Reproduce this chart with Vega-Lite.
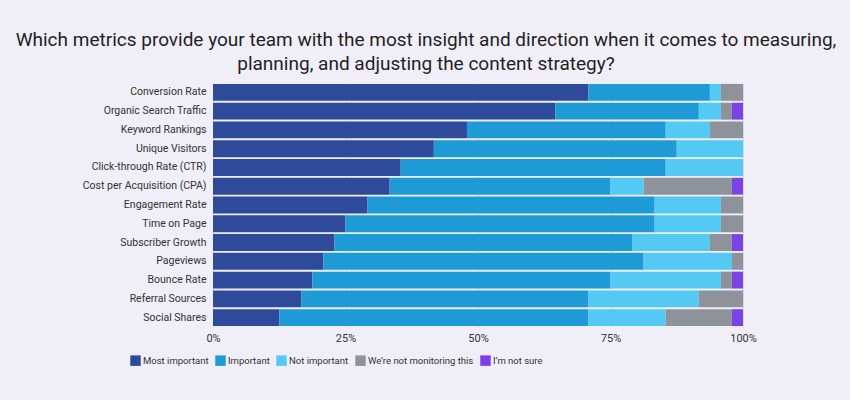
{
  "$schema": "https://vega.github.io/schema/vega-lite/v6.json",
  "autosize": "none",
  "width": 530,
  "height": 244,
  "padding": {"left": 213, "top": 83, "right": 107, "bottom": 73},
  "background": "#f0eef7",
  "title": {
    "text": ["Which metrics provide your team with the most insight and direction when it comes to measuring,", "planning, and adjusting the content strategy?"],
    "anchor": "middle",
    "frame": "group",
    "dx": -52,
    "offset": 9,
    "fontSize": 19,
    "fontWeight": "normal",
    "color": "#1f1f1f",
    "lineHeight": 24
  },
  "data": {
    "values": [
      {"metric": "Conversion Rate", "response": "Most important", "k": 1, "n": 34},
      {"metric": "Conversion Rate", "response": "Important", "k": 2, "n": 11},
      {"metric": "Conversion Rate", "response": "Not important", "k": 3, "n": 1},
      {"metric": "Conversion Rate", "response": "We’re not monitoring this", "k": 4, "n": 2},
      {"metric": "Conversion Rate", "response": "I’m not sure", "k": 5, "n": 0},
      {"metric": "Organic Search Traffic", "response": "Most important", "k": 1, "n": 31},
      {"metric": "Organic Search Traffic", "response": "Important", "k": 2, "n": 13},
      {"metric": "Organic Search Traffic", "response": "Not important", "k": 3, "n": 2},
      {"metric": "Organic Search Traffic", "response": "We’re not monitoring this", "k": 4, "n": 1},
      {"metric": "Organic Search Traffic", "response": "I’m not sure", "k": 5, "n": 1},
      {"metric": "Keyword Rankings", "response": "Most important", "k": 1, "n": 23},
      {"metric": "Keyword Rankings", "response": "Important", "k": 2, "n": 18},
      {"metric": "Keyword Rankings", "response": "Not important", "k": 3, "n": 4},
      {"metric": "Keyword Rankings", "response": "We’re not monitoring this", "k": 4, "n": 3},
      {"metric": "Keyword Rankings", "response": "I’m not sure", "k": 5, "n": 0},
      {"metric": "Unique Visitors", "response": "Most important", "k": 1, "n": 20},
      {"metric": "Unique Visitors", "response": "Important", "k": 2, "n": 22},
      {"metric": "Unique Visitors", "response": "Not important", "k": 3, "n": 6},
      {"metric": "Unique Visitors", "response": "We’re not monitoring this", "k": 4, "n": 0},
      {"metric": "Unique Visitors", "response": "I’m not sure", "k": 5, "n": 0},
      {"metric": "Click-through Rate (CTR)", "response": "Most important", "k": 1, "n": 17},
      {"metric": "Click-through Rate (CTR)", "response": "Important", "k": 2, "n": 24},
      {"metric": "Click-through Rate (CTR)", "response": "Not important", "k": 3, "n": 7},
      {"metric": "Click-through Rate (CTR)", "response": "We’re not monitoring this", "k": 4, "n": 0},
      {"metric": "Click-through Rate (CTR)", "response": "I’m not sure", "k": 5, "n": 0},
      {"metric": "Cost per Acquisition (CPA)", "response": "Most important", "k": 1, "n": 16},
      {"metric": "Cost per Acquisition (CPA)", "response": "Important", "k": 2, "n": 20},
      {"metric": "Cost per Acquisition (CPA)", "response": "Not important", "k": 3, "n": 3},
      {"metric": "Cost per Acquisition (CPA)", "response": "We’re not monitoring this", "k": 4, "n": 8},
      {"metric": "Cost per Acquisition (CPA)", "response": "I’m not sure", "k": 5, "n": 1},
      {"metric": "Engagement Rate", "response": "Most important", "k": 1, "n": 14},
      {"metric": "Engagement Rate", "response": "Important", "k": 2, "n": 26},
      {"metric": "Engagement Rate", "response": "Not important", "k": 3, "n": 6},
      {"metric": "Engagement Rate", "response": "We’re not monitoring this", "k": 4, "n": 2},
      {"metric": "Engagement Rate", "response": "I’m not sure", "k": 5, "n": 0},
      {"metric": "Time on Page", "response": "Most important", "k": 1, "n": 12},
      {"metric": "Time on Page", "response": "Important", "k": 2, "n": 28},
      {"metric": "Time on Page", "response": "Not important", "k": 3, "n": 6},
      {"metric": "Time on Page", "response": "We’re not monitoring this", "k": 4, "n": 2},
      {"metric": "Time on Page", "response": "I’m not sure", "k": 5, "n": 0},
      {"metric": "Subscriber Growth", "response": "Most important", "k": 1, "n": 11},
      {"metric": "Subscriber Growth", "response": "Important", "k": 2, "n": 27},
      {"metric": "Subscriber Growth", "response": "Not important", "k": 3, "n": 7},
      {"metric": "Subscriber Growth", "response": "We’re not monitoring this", "k": 4, "n": 2},
      {"metric": "Subscriber Growth", "response": "I’m not sure", "k": 5, "n": 1},
      {"metric": "Pageviews", "response": "Most important", "k": 1, "n": 10},
      {"metric": "Pageviews", "response": "Important", "k": 2, "n": 29},
      {"metric": "Pageviews", "response": "Not important", "k": 3, "n": 8},
      {"metric": "Pageviews", "response": "We’re not monitoring this", "k": 4, "n": 1},
      {"metric": "Pageviews", "response": "I’m not sure", "k": 5, "n": 0},
      {"metric": "Bounce Rate", "response": "Most important", "k": 1, "n": 9},
      {"metric": "Bounce Rate", "response": "Important", "k": 2, "n": 27},
      {"metric": "Bounce Rate", "response": "Not important", "k": 3, "n": 10},
      {"metric": "Bounce Rate", "response": "We’re not monitoring this", "k": 4, "n": 1},
      {"metric": "Bounce Rate", "response": "I’m not sure", "k": 5, "n": 1},
      {"metric": "Referral Sources", "response": "Most important", "k": 1, "n": 8},
      {"metric": "Referral Sources", "response": "Important", "k": 2, "n": 26},
      {"metric": "Referral Sources", "response": "Not important", "k": 3, "n": 10},
      {"metric": "Referral Sources", "response": "We’re not monitoring this", "k": 4, "n": 4},
      {"metric": "Referral Sources", "response": "I’m not sure", "k": 5, "n": 0},
      {"metric": "Social Shares", "response": "Most important", "k": 1, "n": 6},
      {"metric": "Social Shares", "response": "Important", "k": 2, "n": 28},
      {"metric": "Social Shares", "response": "Not important", "k": 3, "n": 7},
      {"metric": "Social Shares", "response": "We’re not monitoring this", "k": 4, "n": 6},
      {"metric": "Social Shares", "response": "I’m not sure", "k": 5, "n": 1}
    ]
  },
  "mark": {"type": "bar"},
  "encoding": {
    "y": {
      "field": "metric",
      "type": "nominal",
      "sort": null,
      "scale": {"paddingInner": 0.1, "paddingOuter": 0.05},
      "axis": {"title": null, "ticks": false, "domain": false, "labelPadding": 7, "labelFontSize": 10.5, "labelColor": "#333333"}
    },
    "x": {
      "field": "n",
      "type": "quantitative",
      "stack": "normalize",
      "axis": {"title": null, "format": "%", "values": [0, 0.25, 0.5, 0.75, 1], "grid": true, "gridColor": "#d8d8e0", "domain": false, "ticks": false, "labelFlush": false, "labelPadding": 5, "labelFontSize": 11, "labelColor": "#333333"}
    },
    "color": {
      "field": "response",
      "type": "nominal",
      "scale": {
        "domain": ["Most important", "Important", "Not important", "We’re not monitoring this", "I’m not sure"],
        "range": ["#2e4a9a", "#1e9bd7", "#54c9f4", "#8e939b", "#7b42e6"]
      },
      "legend": {
        "title": null,
        "orient": "none",
        "legendX": -83,
        "legendY": 272,
        "direction": "horizontal",
        "symbolType": "square",
        "symbolSize": 110,
        "symbolStrokeWidth": 0,
        "labelFontSize": 9.5,
        "labelColor": "#333333",
        "labelOffset": 2,
        "columnPadding": 6
      }
    },
    "order": {"field": "k", "type": "quantitative"}
  },
  "config": {
    "font": "Roboto",
    "view": {"stroke": null}
  }
}
